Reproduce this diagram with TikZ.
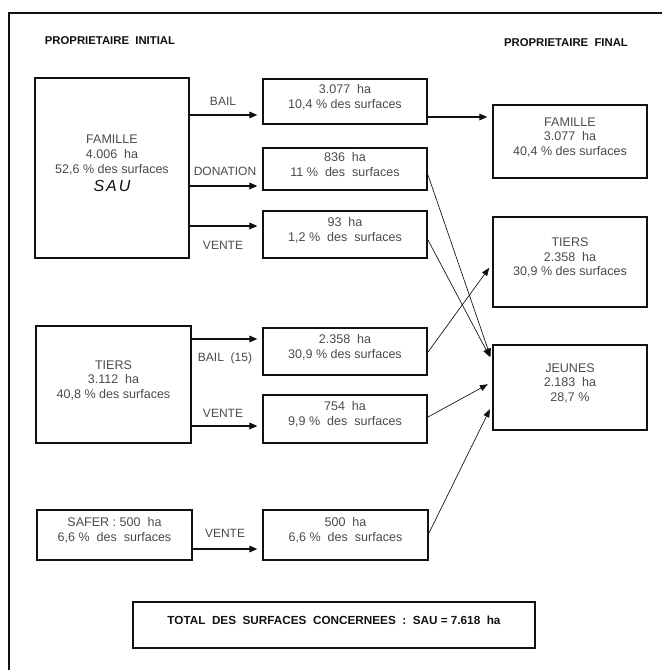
\documentclass[tikz,border=0pt]{standalone}
\usepackage{fontspec}
\setmainfont{Liberation Sans}
\usetikzlibrary{arrows.meta,fit}
\definecolor{ink}{HTML}{111111}
\definecolor{txtgray}{HTML}{4A4A4A}
\tikzset{
  box/.style={draw=ink, line width=1.5pt, inner sep=0pt, align=center, text=txtgray,
    font=\fontsize{9.4pt}{11pt}\selectfont},
  arr/.style={draw=ink, line width=0.9pt, -{Triangle[length=6pt,width=5pt]}, shorten >=3.5pt},
  darr/.style={draw=ink, line width=0.5pt, -{Triangle[length=6pt,width=4.5pt]}, shorten >=3.5pt},
  lbl/.style={text=txtgray, font=\fontsize{9pt}{10pt}\selectfont, inner sep=0pt},
  title/.style={text=ink, font=\bfseries\fontsize{8.5pt}{10pt}\selectfont, inner sep=0pt},
}
\begin{document}
\begin{tikzpicture}[x=0.75pt,y=-0.75pt]
\useasboundingbox (0,0) rectangle (662,670);
% frame
\draw[ink, line width=1.5pt] (9,670) -- (9,13) -- (662,13);
% titles
\node[title] (tInit) at (110,41) {PROPRIETAIRE\ \ INITIAL};
\node[title] (tFin) at (566,43) {PROPRIETAIRE\ \ FINAL};
% initial owners
\node[box, fit={(35,78) (189,258)}] (fam) {FAMILLE\\4.006\ \ ha\\52,6 \%\ des surfaces\\[3pt]{\fontsize{12pt}{13pt}\selectfont\itshape\color{ink}\addfontfeature{LetterSpace=12}SAU}\\[6pt]};
\node[box, fit={(36,326) (191,443)}] (tin) {TIERS\\3.112\ \ ha\\40,8 \%\ des surfaces\\[6pt]};
\node[box, fit={(37,510) (192,560)}] (saf) {SAFER\ :\ 500\ \ ha\\6,6 \%\ \ des\ \ surfaces};
% middle boxes
\node[box, fit={(263,79) (427,124)}] (b1) {3.077\ \ ha\\10,4 \%\ des surfaces};
\node[box, fit={(263,148) (427,190)}] (b2) {836\ \ ha\\11 \%\ \ des\ \ surfaces};
\node[box, fit={(263,211) (427,258)}] (b3) {93\ \ ha\\1,2 \%\ \ des\ \ surfaces};
\node[box, fit={(263,328) (427,375)}] (b4) {2.358\ \ ha\\30,9 \%\ des surfaces};
\node[box, fit={(263,395) (427,443)}] (b5) {754\ \ ha\\9,9 \%\ \ des\ \ surfaces};
\node[box, fit={(263,510) (428,560)}] (b6) {500\ \ ha\\6,6 \%\ \ des\ \ surfaces};
% final owners
\node[box, fit={(493,105) (647,178)}] (ffam) {FAMILLE\\3.077\ \ ha\\40,4 \%\ des surfaces};
\node[box, fit={(493,217) (647,307)}] (ftie) {TIERS\\2.358\ \ ha\\30,9 \%\ des surfaces};
\node[box, fit={(493,345) (647,430)}] (fjeu) {JEUNES\\2.183\ \ ha\\28,7 \%};
% total
\node[box, fit={(133,602) (535,648)}, text=ink, font=\bfseries\fontsize{8.8pt}{10pt}\selectfont] (tot) {TOTAL\ \ DES\ \ SURFACES\ \ CONCERNEES\ \ :\ \ SAU = 7.618\ \ ha};
% labels
\node[lbl] (lBail) at (223,101) {BAIL};
\node[lbl] (lDon) at (225,171) {DONATION};
\node[lbl] (lVen1) at (223,245) {VENTE};
\node[lbl] (lBail15) at (225,358) {BAIL\ \ (15)};
\node[lbl] (lVen2) at (223,413) {VENTE};
\node[lbl] (lVen3) at (225,533) {VENTE};
% arrows
\draw[arr] (fam.east |- 0,115) -- (b1.west |- 0,115);
\draw[arr] (fam.east |- 0,186) -- (b2.west |- 0,186);
\draw[arr] (fam.east |- 0,226) -- (b3.west |- 0,226);
\draw[arr] (tin.east |- 0,339) -- (b4.west |- 0,339);
\draw[arr] (tin.east |- 0,426) -- (b5.west |- 0,426);
\draw[arr] (saf.east |- 0,549) -- (b6.west |- 0,549);
\draw[arr] (b1.east |- 0,117) -- (ffam.west |- 0,117);
% diagonals
\draw[darr] (b2.east |- 0,175) -- (fjeu.west |- 0,361);
\draw[darr] (b3.east |- 0,240) -- (fjeu.west |- 0,361);
\draw[darr] (b4.east |- 0,352) -- (ftie.west |- 0,264);
\draw[darr] (b5.east |- 0,417) -- (fjeu.west |- 0,382);
\draw[darr] (b6.east |- 0,533) -- (fjeu.west |- 0,405);
\end{tikzpicture}
\end{document}
